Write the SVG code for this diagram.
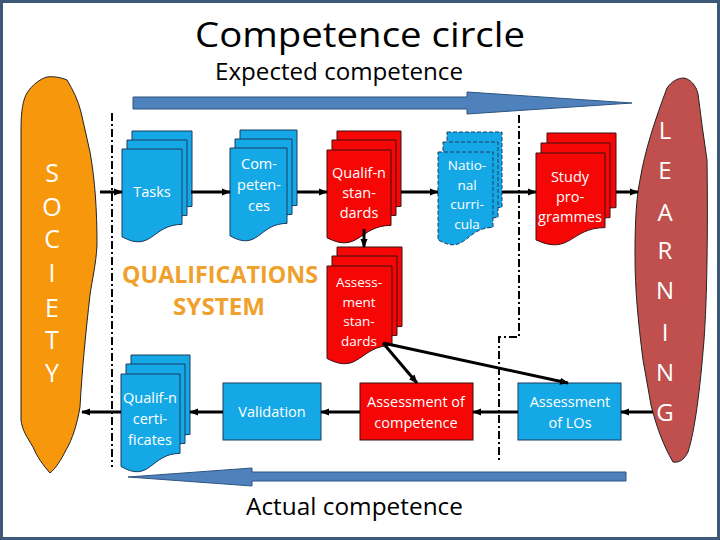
<svg xmlns="http://www.w3.org/2000/svg" width="720" height="540" viewBox="0 0 720 540">
<style>
.ttl{font-family:"Open Sans","Liberation Sans",sans-serif;fill:#000}
.nt{font-family:"Open Sans","Liberation Sans",sans-serif;font-size:14.5px;fill:#fff;text-anchor:middle}
.sm{font-size:13.5px}
.big{font-family:"Open Sans","Liberation Sans",sans-serif;fill:#fff;text-anchor:middle}
.blue{fill:#14a9e6;stroke:#1c3a5e;stroke-width:1}
.red{fill:#f70606;stroke:#3a1010;stroke-width:1}
.dash{stroke-dasharray:4 2}
.con{stroke:#000;stroke-width:3;fill:none;marker-end:url(#ah)}
.dd{stroke:#000;stroke-width:2;fill:none;stroke-dasharray:8 3 2 3}
.qs{font-family:"Open Sans","Liberation Sans",sans-serif;font-weight:bold;font-size:24px;fill:#f0a02c;text-anchor:middle}
</style>
<defs>
<marker id="ah" viewBox="0 0 10 10" refX="9" refY="5" markerWidth="9" markerHeight="9" markerUnits="userSpaceOnUse" orient="auto">
<path d="M0,1 L10,5 L0,9 Z" fill="#000"/>
</marker>
</defs>
<rect x="1.5" y="1.5" width="717" height="537" fill="#fff" stroke="#3c5a78" stroke-width="3"/>
<text class="ttl" x="360" y="47" font-size="34" text-anchor="middle" textLength="330" lengthAdjust="spacingAndGlyphs">Competence circle</text>
<text class="ttl" x="339" y="80" font-size="23" text-anchor="middle" textLength="248" lengthAdjust="spacingAndGlyphs">Expected competence</text>
<text class="ttl" x="354.5" y="515" font-size="23" text-anchor="middle" textLength="217" lengthAdjust="spacingAndGlyphs">Actual competence</text>
<g id="expected-arrow">
<polygon points="133,97 467,97 467,92 632,103 467,114 467,109 133,109" fill="#4f81bd" stroke="#2f5580" stroke-width="1"/>
</g>
<g id="actual-arrow">
<polygon points="626,472 252,472 252,468 128,477 252,486 252,481 626,481" fill="#4f81bd" stroke="#2f5580" stroke-width="1"/>
</g>
<g id="boundaries">
<path class="dd" d="M112,113 V467"/>
<path class="dd" d="M519,115 V337 H499 V460"/>
</g>
<g id="society">
<path d="M47,77 C55,76 62,78 67,80 C73,90 78,100 81,112 L90,152 C95,180 97,210 97,245 C96,265 92,280 90,295 C86,330 82,370 80,407 C77,425 72,440 66,450 C61,460 56,468 50,473 C43,465 37,457 33,447 C27,437 22,430 21,420 L21,130 C21,110 23,100 27,93 C32,85 40,79 47,77 Z" fill="#f7970c" stroke="#222" stroke-width="1"/>
<g class="big" font-size="25">
<text x="52" y="182">S</text>
<text x="52" y="216">O</text>
<text x="52" y="248">C</text>
<text x="52" y="282">I</text>
<text x="52" y="317">E</text>
<text x="52" y="349">T</text>
<text x="52" y="382">Y</text>
</g>
</g>
<g id="learning">
<path d="M684,78 C690,79 696,85 698,94 L702,125 L707,160 C708,230 707,300 704,340 C700,390 695,430 688,452 C684,460 679,463 673,462 C663,445 656,425 651,405 L643,360 C638,320 635,290 635,255 C635,215 637,195 640,180 C645,150 655,120 667,88 C672,81 678,78 684,78 Z" fill="#c0504d" stroke="#222" stroke-width="1"/>
<g class="big" font-size="24">
<text x="665" y="139">L</text>
<text x="665" y="179">E</text>
<text x="665" y="221">A</text>
<text x="665" y="259">R</text>
<text x="665" y="299">N</text>
<text x="665" y="341">I</text>
<text x="665" y="381">N</text>
<text x="665" y="421">G</text>
</g>
</g>
<g id="qualifications-system">
<text class="qs" x="220" y="283" textLength="196" lengthAdjust="spacingAndGlyphs">QUALIFICATIONS</text>
<text class="qs" x="219" y="315" textLength="92" lengthAdjust="spacingAndGlyphs">SYSTEM</text>
</g>
<g id="tasks">
<path class="blue" d="M132,131 H192 V206.4 C162,206.4 162,235.1 132,218.8 Z"/>
<path class="blue" d="M127,140 H187 V215.4 C157,215.4 157,244.1 127,227.8 Z"/>
<path class="blue" d="M122,149 H182 V224.4 C152,224.4 152,253.1 122,236.8 Z"/>
<text class="nt" x="152" y="197">Tasks</text>
</g>
<g id="competences">
<path class="blue" d="M240,130 H297 V205.4 C268.5,205.4 268.5,234.1 240,217.8 Z"/>
<path class="blue" d="M235,139 H292 V214.4 C263.5,214.4 263.5,243.1 235,226.8 Z"/>
<path class="blue" d="M230,148 H287 V223.4 C258.5,223.4 258.5,252.1 230,235.8 Z"/>
<text class="nt" x="259" y="169">Com-</text>
<text class="nt" x="259" y="190">peten-</text>
<text class="nt" x="259" y="211">ces</text>
</g>
<g id="qualification-standards">
<path class="red" d="M337,131 H401 V206.4 C369,206.4 369,235.1 337,218.8 Z"/>
<path class="red" d="M332,140 H396 V215.4 C364,215.4 364,244.1 332,227.8 Z"/>
<path class="red" d="M327,150 H391 V225.4 C359,225.4 359,254.1 327,237.8 Z"/>
<text class="nt" x="359" y="178">Qualif-n</text>
<text class="nt" x="359" y="198">stan-</text>
<text class="nt" x="359" y="218">dards</text>
</g>
<g id="national-curricula">
<path class="blue dash" d="M447,132 H502 V207.4 C474.5,207.4 474.5,236.1 447,219.8 Z"/>
<path class="blue dash" d="M443,142 H498 V217.4 C470.5,217.4 470.5,246.1 443,229.8 Z"/>
<path class="blue dash" d="M438,152 H493 V227.4 C465.5,227.4 465.5,256.1 438,239.8 Z"/>
<text class="nt sm" x="467" y="170">Natio-</text>
<text class="nt sm" x="467" y="189.5">nal</text>
<text class="nt sm" x="467" y="209">curri-</text>
<text class="nt sm" x="467" y="228.5">cula</text>
</g>
<g id="study-programmes">
<path class="red" d="M547,133 H616 V207.6 C581.5,207.6 581.5,236 547,219.9 Z"/>
<path class="red" d="M541,143 H610 V217.6 C575.5,217.6 575.5,246 541,229.9 Z"/>
<path class="red" d="M536,153 H605 V227.6 C570.5,227.6 570.5,256 536,239.9 Z"/>
<text class="nt" x="570" y="182">Study</text>
<text class="nt" x="570" y="202">pro-</text>
<text class="nt" x="570" y="222">grammes</text>
</g>
<g id="assessment-standards">
<path class="red" d="M337,247 H402 V326.4 C369.5,326.4 369.5,356.6 337,339.5 Z"/>
<path class="red" d="M332,256 H397 V335.4 C364.5,335.4 364.5,365.6 332,348.5 Z"/>
<path class="red" d="M327,266 H392 V345.4 C359.5,345.4 359.5,375.6 327,358.5 Z"/>
<text class="nt sm" x="359" y="287">Assess-</text>
<text class="nt sm" x="359" y="306.5">ment</text>
<text class="nt sm" x="359" y="326">stan-</text>
<text class="nt sm" x="359" y="345.5">dards</text>
</g>
<g id="qualification-certificates">
<path class="blue" d="M131,355 H190 V434.4 C160.5,434.4 160.5,464.6 131,447.5 Z"/>
<path class="blue" d="M126,364 H185 V443.4 C155.5,443.4 155.5,473.6 126,456.5 Z"/>
<path class="blue" d="M121,374 H180 V453.4 C150.5,453.4 150.5,483.6 121,466.5 Z"/>
<text class="nt" x="150" y="403">Qualif-n</text>
<text class="nt" x="150" y="424">certi-</text>
<text class="nt" x="150" y="445">ficates</text>
</g>
<g id="validation">
<rect class="blue" x="223" y="383" width="98" height="57"/>
<text class="nt" x="272" y="417">Validation</text>
</g>
<g id="assessment-of-competence">
<rect class="red" x="360" y="383" width="113" height="57"/>
<text class="nt" x="416" y="407">Assessment of</text>
<text class="nt" x="416" y="428">competence</text>
</g>
<g id="assessment-of-los">
<rect class="blue" x="518" y="383" width="103" height="57"/>
<text class="nt" x="570" y="407">Assessment</text>
<text class="nt" x="570" y="428">of LOs</text>
</g>
<g id="connectors">
<path class="con" d="M100,192 H122"/>
<path class="con" d="M191,192 H230"/>
<path class="con" d="M297,192 H327"/>
<path class="con" d="M401,192 H438"/>
<path class="con" d="M502,192 H536"/>
<path class="con" d="M616,192 H638"/>
<path class="con" d="M364,229 V247"/>
<path class="con" d="M383,343 L417,383"/>
<path class="con" d="M383,343 L568,383"/>
<path class="con" d="M653,412 H621"/>
<path class="con" d="M518,412 H473"/>
<path class="con" d="M360,412 H321"/>
<path class="con" d="M223,412 H190"/>
<path class="con" d="M121,412 H82"/>
</g>
</svg>
